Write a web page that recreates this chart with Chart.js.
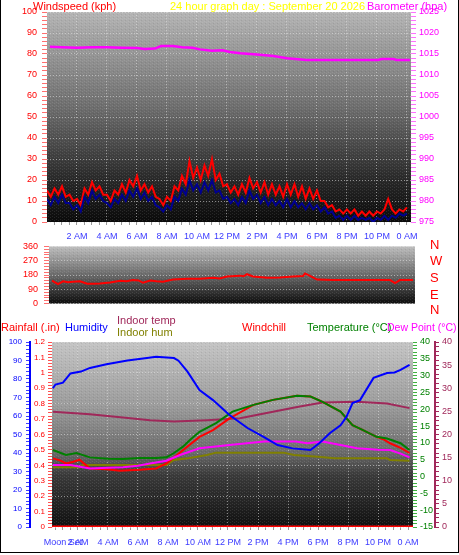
<!DOCTYPE html>
<html>
<head>
<meta charset="utf-8">
<script src="https://cdn.jsdelivr.net/npm/chart.js@4"></script>
<style>
  body { margin: 0; background: #fff; }
  #wrap { position: relative; width: 459px; height: 555px; overflow: hidden; font-family: "Liberation Sans", Arial, sans-serif; }
  #frame { position: absolute; left: 0; top: 0; width: 457px; height: 552px; border: 1px solid #000; border-top: none; z-index: 5; pointer-events: none; }
  canvas { position: absolute; left: 0; }
  .t { position: absolute; white-space: nowrap; font-size: 11px; line-height: 12px; z-index: 4; }
  .nw { position: absolute; left: 430px; font-size: 13px; line-height: 14px; color: #ff0000; z-index: 4; }
</style>
</head>
<body>
<div id="wrap">
  <canvas id="top" width="459" height="245" style="top:0"></canvas>
  <canvas id="mid" width="459" height="80" style="top:235px"></canvas>
  <canvas id="bot" width="459" height="235" style="top:320px"></canvas>

  <div class="t" style="left:33px;top:0;color:#ff0000">Windspeed (kph)</div>
  <div class="t" style="left:170px;top:0;color:#ffff00">24 hour graph day : September 20 2026</div>
  <div class="t" style="left:367px;top:0;color:#ff00ff">Barometer (hpa)</div>

  <div class="nw" style="top:238px">N</div>
  <div class="nw" style="top:254px">W</div>
  <div class="nw" style="top:271px">S</div>
  <div class="nw" style="top:288px">E</div>
  <div class="nw" style="top:303px">N</div>

  <div class="t" style="left:1px;top:321px;color:#ff0000">Rainfall (.in)</div>
  <div class="t" style="left:65px;top:321px;color:#0000ff">Humidity</div>
  <div class="t" style="left:117px;top:314px;color:#a0285a">Indoor temp</div>
  <div class="t" style="left:117px;top:326px;color:#808000">Indoor hum</div>
  <div class="t" style="left:242px;top:321px;color:#ff0000">Windchill</div>
  <div class="t" style="left:307px;top:321px;color:#008000">Temperature (°C)</div>
  <div class="t" style="left:387px;top:321px;color:#ff00ff;font-size:10.5px">Dew Point (°C)</div>
  <div id="frame"></div>
</div>
<script>
// ---- data (hours since midnight) ----
const hourTicks = [2, 4, 6, 8, 10, 12, 14, 16, 18, 20, 22, 24];
const hourLabels = ['2 AM', '4 AM', '6 AM', '8 AM', '10 AM', '12 PM', '2 PM', '4 PM', '6 PM', '8 PM', '10 PM', '0 AM'];
const moonTick = 1;
const moonLabel = 'Moon Set';

// wind, one reading every 15 minutes
const windGust = [15,12,16,13,17,12,13,10,11,8,16,13,19,15,17,13,13,10,15,13,18,14,20,17,22,15,18,14,17,12,11,8,
  12,10,17,15,22,18,29,21,26,20,27,22,30,20,23,17,18,14,17,13,18,14,21,16,19,14,19,13,18,13,17,12,
  18,13,18,12,17,11,16,11,15,10,10,7,8,5,6,4,6,4,6,3,5,3,5,3,5,4,6,11,6,4,6,5,7];
const windAvg = [11,8,12,9,13,9,9,6,8,5,12,9,15,11,13,10,9,7,11,9,13,10,15,12,16,11,14,10,12,8,7,5,
  8,6,12,10,16,13,20,15,18,14,19,15,20,14,15,11,12,9,11,8,12,9,15,11,13,9,12,8,11,8,10,7,
  11,7,10,7,9,6,9,6,8,5,7,4,5,2,3,1,3,1,3,1,2,1,2,0,2,1,3,1,3,2,4,3,4];
const windTimes = windGust.map((_, i) => i * 0.25);

const baroTimes = [0.2,1,2,3,4,5,6,6.5,7.2,7.6,8.4,9,9.7,10.2,11,11.7,12.2,12.9,14,15.1,16,17.3,22.1,22.3,23.1,23.3,24.2];
const baroValues = [1016.7,1016.6,1016.5,1016.6,1016.6,1016.5,1016.4,1016.2,1016.3,1016.9,1016.9,1016.6,1016.5,1016.1,1015.8,1015.9,1015.5,1015.2,1014.9,1014.5,1014.0,1013.6,1013.6,1013.8,1013.8,1013.6,1013.6];

const dirTimes = [0.33,0.73,1.07,1.4,1.73,2.2,2.67,3.07,3.53,4.2,4.87,5.3,5.73,6.1,6.4,6.87,7.3,7.73,8.4,9.33,10.2,11.07,11.5,12,12.87,13.1,13.33,13.73,14.67,15.53,16.4,17.07,17.2,17.53,18,19.07,20.2,21,22.87,23.2,23.53,24.4];
const dirValues = [144,122,140,134,137,140,125,125,127,133,144,141,148,146,131,145,140,137,151,157,157,162,158,171,176,172,185,171,162,165,171,174,190,174,151,148,148,148,148,129,148,148];

const humTimes = [0.33,0.5,1.0,1.5,2.2,2.8,3.9,5.3,6.6,7.2,8.4,8.7,9.3,10.1,11,12.1,13.3,14.4,15.3,16.3,17.5,18.1,18.8,19.5,19.9,20.3,20.8,21.7,22.6,23.1,23.5,24.1];
const humValues = [75,77,78,83,84,86,88,90,91.3,92,91.3,89.9,84,74,68.6,60.5,53.5,48.6,44.3,42.5,41.6,45.4,50.8,55,59.6,67,68.6,80.6,83.2,83.5,84.9,87.6];

const tempTimes = [0.33,1.2,1.9,2.8,4,5,6.1,7.2,7.9,8.4,9,9.5,10.1,11.2,12.3,13.7,15,16.6,17.5,18.3,19.5,20.3,21,21.9,22.6,23.5,24.1];
const tempValues = [7.9,6.4,7.0,5.7,5.3,5.2,5.5,5.5,5.7,7.0,8.9,11,13.3,15.9,19.3,21.3,22.8,24.0,23.8,22.2,19.3,15.3,13.8,11.8,11.3,9.9,7.9];

const chillTimes = [0.33,0.8,1.2,1.7,2.1,2.8,3.9,4.8,6.1,7.2,7.9,8.6,10.1,11,12.1,13.7,15,16.6,17.5,18.3,19.5,20.3,21,21.9,22.4,22.8,23.5,24.1];
const chillValues = [5.4,4.8,3.9,4.4,5.0,2.4,2.2,1.7,2.0,2.4,3.9,6.4,11.8,13.8,17.3,21.3,22.8,24.0,23.8,22.2,19.3,15.3,13.8,11.8,11.0,9.9,8.5,7.0];

const dewTimes = [0.33,1.5,2.8,4,5,6,6.8,7.9,8.8,10.1,12.1,14.4,16.5,17.3,18.3,19.5,20.6,22,22.8,23.5,24.1];
const dewValues = [3.4,3.4,2.4,2.6,2.8,3.2,3.9,4.7,6.4,8.4,9.4,10.4,10.4,9.9,10.4,9.4,8.4,8.0,7.9,6.8,5.7];

const inTempTimes = [0.33,2.8,5,6.8,8.4,10.6,12.8,15,16.7,18.3,20.6,22.6,24.1];
const inTempValues = [24.9,24.4,23.7,23.1,22.8,23.1,23.5,24.9,26.0,26.9,27.1,26.7,25.7];

const inHumTimes = [0.33,2.1,2.3,7.9,8.4,9.3,10.6,11.2,15.7,16.4,18,19.1,22.6,22.8,24.1];
const inHumValues = [32.3,32.3,33.5,33.5,36.2,37.1,38.9,40.2,40.2,38.9,38,37.1,37.1,36.2,35.8];

const rainTimes = [0.27, 24.33];
const rainValues = [0, 0];

// ---- helpers ----
const FONT = '"Liberation Sans", Arial, sans-serif';
const NARROW = '"Liberation Sans Narrow", "Liberation Sans", Arial, sans-serif';
const GRID = 'rgba(225,225,225,0.55)';

const pts = (xs, ys) => xs.map((x, i) => ({ x: x, y: ys[i] }));
function stepTicks(min, max, step) {
  const out = [];
  for (let v = min; v <= max + 1e-9; v += step) out.push({ value: Math.round(v * 1000) / 1000 });
  return out;
}
const isMult = (v, m) => Math.abs(v / m - Math.round(v / m)) < 1e-6;

// small stipple tile, the original plot backgrounds are dithered
const dots = document.createElement('canvas');
dots.width = 4; dots.height = 3;
(function () {
  const c = dots.getContext('2d');
  c.fillStyle = 'rgba(255,255,255,0.10)';
  c.fillRect(0, 0, 1, 1);
  c.fillRect(2, 1, 1, 1);
  c.fillStyle = 'rgba(0,0,0,0.08)';
  c.fillRect(1, 2, 1, 1);
})();

const bgPlugin = {
  id: 'bg',
  beforeDraw(chart, args, opts) {
    const { ctx, chartArea: a } = chart;
    const g = ctx.createLinearGradient(0, a.top, 0, a.bottom);
    opts.stops.forEach(s => g.addColorStop(s[0], s[1]));
    ctx.save();
    ctx.fillStyle = g;
    ctx.fillRect(a.left, a.top, a.right - a.left, a.bottom - a.top);
    ctx.fillStyle = ctx.createPattern(dots, 'repeat');
    ctx.fillRect(a.left, a.top, a.right - a.left, a.bottom - a.top);
    ctx.restore();
  }
};

// a y axis with minor tick marks and labels on every `major`
function yAxis(o) {
  return {
    position: o.position, weight: o.weight || 0, min: o.min, max: o.max,
    afterFit: s => { s.width = o.width; },
    afterBuildTicks: s => { s.ticks = stepTicks(o.min, o.max, o.minor); },
    grid: {
      drawOnChartArea: !!o.grid,
      color: c => (o.grid && c.tick && isMult(c.tick.value, o.grid)) ? GRID : 'transparent',
      tickColor: o.tickColor, tickLength: o.tickLength || 4, tickBorderDash: []
    },
    border: { display: !!o.border, color: o.border, width: 2, dash: [1, 2] },
    ticks: {
      autoSkip: false, padding: o.pad || 3, color: o.color,
      font: { family: FONT, size: o.size || 9 },
      callback: v => isMult(v, o.major) ? String(Math.round(v * 10) / 10) : ''
    }
  };
}

function xAxis(o) {
  return {
    type: 'linear', min: o.min, max: o.max, display: o.display !== false,
    afterFit: s => { s.height = o.height; },
    afterBuildTicks: s => { s.ticks = stepTicks(0.5, 24, 0.5); },
    grid: {
      color: c => (c.tick && isMult(c.tick.value, 2)) ? GRID : 'transparent',
      tickColor: '#9a9a9a', tickLength: 3, tickBorderDash: []
    },
    border: { display: false, dash: [1, 2] },
    ticks: {
      autoSkip: false, maxRotation: 0, padding: o.pad, color: '#3a3aff',
      font: { family: NARROW, size: 9 },
      callback: v => {
        if (o.moon && v === moonTick) return moonLabel;
        const i = hourTicks.indexOf(v);
        return i >= 0 ? hourLabels[i] : '';
      }
    }
  };
}

const base = {
  responsive: false, animation: false,
  elements: { point: { radius: 0 }, line: { tension: 0 } }
};

// ---- top: wind speed + barometer ----
new Chart(document.getElementById('top'), {
  type: 'line',
  data: { datasets: [
    { data: pts(windTimes, windAvg), borderColor: '#000090', borderWidth: 2, yAxisID: 'y' },
    { data: pts(windTimes, windGust), borderColor: '#ff0000', borderWidth: 2, yAxisID: 'y' },
    { data: pts(baroTimes, baroValues), borderColor: '#ff00ff', borderWidth: 2.5, yAxisID: 'baro' }
  ] },
  options: Object.assign({}, base, {
    layout: { padding: { top: 12 } },
    plugins: { legend: { display: false }, tooltip: { enabled: false },
      bg: { stops: [[0, '#b4b4b4'], [0.45, '#6e6e6e'], [0.8, '#282828'], [1, '#0a0a0a']] } },
    scales: {
      x: xAxis({ min: 0, max: 24.27, height: 23, pad: 6 }),
      y: yAxis({ position: 'left', min: 0, max: 100, minor: 2, major: 10, grid: 10, width: 47,
                 color: '#ff0000', tickColor: '#ff7070', tickLength: 5, pad: 5 }),
      baro: yAxis({ position: 'right', min: 975, max: 1025, minor: 1, major: 5, width: 48,
                    color: '#ff00ff', tickColor: '#ff70ff', tickLength: 5, pad: 3 })
    }
  }),
  plugins: [bgPlugin]
});

// ---- middle: wind direction ----
new Chart(document.getElementById('mid'), {
  type: 'line',
  data: { datasets: [
    { data: pts(dirTimes, dirValues), borderColor: '#ff0000', borderWidth: 2, yAxisID: 'y' }
  ] },
  options: Object.assign({}, base, {
    layout: { padding: { top: 11, bottom: 5, right: 44 } },
    plugins: { legend: { display: false }, tooltip: { enabled: false },
      bg: { stops: [[0, '#bdbdbd'], [0.5, '#6a6a6a'], [1, '#0c0c0c']] } },
    scales: {
      x: xAxis({ min: 0.13, max: 24.53, height: 0, pad: 0, display: false }),
      y: yAxis({ position: 'left', min: 0, max: 360, minor: 18, major: 90, grid: 90, width: 49,
                 color: '#ff0000', tickColor: '#ff7070', tickLength: 5, pad: 6 })
    }
  }),
  plugins: [bgPlugin]
});

// ---- bottom: temperatures, humidity, rain ----
new Chart(document.getElementById('bot'), {
  type: 'line',
  data: { datasets: [
    { data: pts(humTimes, humValues), borderColor: '#0000ff', borderWidth: 2, yAxisID: 'hum' },
    { data: pts(tempTimes, tempValues), borderColor: '#008000', borderWidth: 2, yAxisID: 'temp' },
    { data: pts(dewTimes, dewValues), borderColor: '#ff00ff', borderWidth: 2, yAxisID: 'temp' },
    { data: pts(chillTimes, chillValues), borderColor: '#ff0000', borderWidth: 2, yAxisID: 'temp' },
    { data: pts(inTempTimes, inTempValues), borderColor: '#a0285a', borderWidth: 2, yAxisID: 'indoor' },
    { data: pts(inHumTimes, inHumValues), borderColor: '#808000', borderWidth: 2, yAxisID: 'hum' },
    { data: pts(rainTimes, rainValues), borderColor: '#ff0000', borderWidth: 3, yAxisID: 'rain' }
  ] },
  options: Object.assign({}, base, {
    layout: { padding: { top: 22 } },
    plugins: { legend: { display: false }, tooltip: { enabled: false },
      bg: { stops: [[0, '#c4c4c4'], [0.35, '#9a9a9a'], [0.6, '#6a6a6a'], [0.72, '#3a3a3a'], [1, '#101010']] } },
    scales: {
      x: xAxis({ min: 0.27, max: 24.33, height: 28, pad: 7, moon: true }),
      rain: yAxis({ position: 'left', weight: 0, min: 0, max: 1.2, minor: 0.02, major: 0.1, grid: 0.2, width: 22,
                    color: '#ff0000', tickColor: '#ff5050', tickLength: 4, pad: 3, size: 8 }),
      hum: yAxis({ position: 'left', weight: 1, min: 0, max: 100, minor: 2, major: 10, width: 30,
                   color: '#0000ff', tickColor: '#4040ff', tickLength: 4, pad: 4, size: 8, border: '#0000ff' }),
      temp: yAxis({ position: 'right', weight: 0, min: -15, max: 40, minor: 1, major: 5, width: 22,
                    color: '#008000', tickColor: '#40b040', tickLength: 4, pad: 3 }),
      indoor: yAxis({ position: 'right', weight: 1, min: 0, max: 40, minor: 1, major: 5, width: 24,
                      color: '#a0285a', tickColor: '#a0285a', tickLength: 4, pad: 3, border: '#a0285a' })
    }
  }),
  plugins: [bgPlugin]
});
</script>
</body>
</html>
